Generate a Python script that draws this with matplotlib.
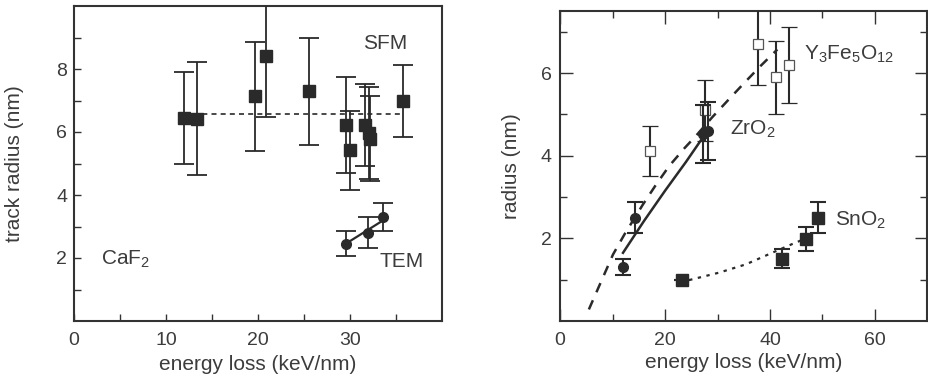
import matplotlib
matplotlib.use("Agg")
import matplotlib.pyplot as plt
from matplotlib.ticker import FixedLocator

plt.rcParams['font.family'] = ['Liberation Sans', 'DejaVu Sans']
plt.rcParams['mathtext.fontset'] = 'custom'
plt.rcParams['mathtext.rm'] = 'Liberation Sans'
plt.rcParams['mathtext.it'] = 'Liberation Sans:italic'
plt.rcParams['mathtext.default'] = 'regular'

# ---------------- data: left panel (CaF2) ----------------
sfm_x = [11.9, 13.4, 19.7, 20.8, 25.5, 29.5, 30.0, 31.6, 32.0, 32.1, 35.7]
sfm_y = [6.45, 6.42, 7.13, 8.40, 7.30, 6.22, 5.42, 6.22, 5.97, 5.78, 6.98]
sfm_err = [1.45, 1.80, 1.74, 1.93, 1.70, 1.53, 1.25, 1.30, 1.45, 1.35, 1.15]
sfm_mean_x = [12.0, 35.8]
sfm_mean_y = [6.57, 6.57]

tem_x = [29.5, 31.9, 33.6]
tem_y = [2.46, 2.80, 3.30]
tem_err = [0.41, 0.49, 0.44]
tem_fit_x = [29.5, 33.6]
tem_fit_y = [2.45, 3.20]

left_xticks = [0, 10, 20, 30]
left_yticks = [2, 4, 6, 8]

# ---------------- data: right panel ----------------
zr_x = [12.0, 14.2, 27.2, 28.1]
zr_y = [1.31, 2.50, 4.52, 4.60]
zr_err = [0.19, 0.37, 0.70, 0.70]
zr_fit_x = [12.0, 16.0, 20.0, 24.0, 27.8]
zr_fit_y = [1.65, 2.42, 3.15, 3.85, 4.55]

yig_x = [17.2, 27.7, 37.8, 41.2, 43.7]
yig_y = [4.11, 5.10, 6.70, 5.90, 6.20]
yig_err = [0.61, 0.74, 1.00, 0.88, 0.92]
yig_fit_x = [5.5, 10.1, 12.3, 15.8, 18.3, 20.8, 23.7, 25.9, 29.0, 32.8, 35.4, 38.2, 41.4]
yig_fit_y = [0.28, 1.61, 2.10, 2.82, 3.30, 3.75, 4.18, 4.48, 4.93, 5.45, 5.80, 6.17, 6.57]

sn_x = [23.2, 42.2, 46.9, 49.1]
sn_y = [0.99, 1.51, 1.99, 2.50]
sn_err = [0.0, 0.22, 0.29, 0.37]
sn_fit_x = [24.6, 30.3, 35.4, 40.4, 44.2, 46.1]
sn_fit_y = [0.99, 1.17, 1.37, 1.65, 1.86, 1.96]

right_xticks = [0, 20, 40, 60]
right_yticks = [2, 4, 6]

# ---------------- styling ----------------
ink = '#2a2a2a'
txt = '#3c3c3c'
spine_c = '#333333'

fig = plt.figure(figsize=(9.29, 3.78), dpi=100)
W, H = 929.0, 378.0

axL = fig.add_axes([74 / W, 1 - 321 / H, (442.3 - 74) / W, (321 - 6) / H])
axR = fig.add_axes([560 / W, 1 - 321 / H, (927.5 - 560) / W, (321 - 11) / H])

for ax in (axL, axR):
    for s in ax.spines.values():
        s.set_linewidth(1.5)
        s.set_color(spine_c)

# ---- left ----
axL.plot(sfm_mean_x, sfm_mean_y, color=ink, lw=1.2, dashes=(3, 2.5), zorder=1)
axL.errorbar(sfm_x, sfm_y, yerr=sfm_err, fmt='s', ms=8, color=ink, mfc=ink, mec=ink,
             ecolor=ink, elinewidth=1.3, capsize=7, capthick=1.3, zorder=3)
axL.plot(tem_fit_x, tem_fit_y, color=ink, lw=1.6, zorder=2)
axL.errorbar(tem_x, tem_y, yerr=tem_err, fmt='o', ms=7, color=ink, mfc=ink, mec=ink,
             ecolor=ink, elinewidth=1.3, capsize=7, capthick=1.3, zorder=3)

axL.set_xlim(0, 40)
axL.set_ylim(0, 10)
axL.xaxis.set_major_locator(FixedLocator(left_xticks))
axL.xaxis.set_minor_locator(FixedLocator([5, 15, 25, 35]))
axL.yaxis.set_major_locator(FixedLocator(left_yticks))
axL.yaxis.set_minor_locator(FixedLocator([1, 3, 5, 7, 9]))
axL.tick_params(which='both', direction='in', length=5, width=1.0, color=spine_c,
                top=False, right=False)
axL.tick_params(axis='x', which='major', pad=8, labelsize=14, labelcolor=txt)
axL.tick_params(axis='y', which='major', pad=5, labelsize=14, labelcolor=txt)

axL.text(33.8, 8.63, 'SFM', ha='center', va='baseline', fontsize=15, color=txt)
axL.text(35.6, 1.73, 'TEM', ha='center', va='baseline', fontsize=15, color=txt)
axL.text(2.9, 1.79, 'CaF$_2$', ha='left', va='baseline', fontsize=15, color=txt)

axL.set_xlabel('energy loss (keV/nm)', fontsize=15, color=txt, va='center')
axL.set_ylabel('track radius (nm)', fontsize=15, color=txt, va='center', ha='center')
axL.xaxis.set_label_coords(0.5, (321 - 365) / 315.0)
axL.yaxis.set_label_coords((15 - 74) / (442.3 - 74), 0.5)

# ---- right ----
axR.plot(yig_fit_x, yig_fit_y, color=ink, lw=1.8, dashes=(4, 3.5), zorder=1)
axR.plot(zr_fit_x, zr_fit_y, color=ink, lw=1.8, zorder=1)
axR.plot(sn_fit_x, sn_fit_y, color=ink, lw=1.6, dashes=(1.5, 2.5), zorder=1)
axR.errorbar(yig_x, yig_y, yerr=yig_err, fmt='s', ms=6.5, color=ink, mfc='white', mec='#555555',
             mew=0.9, ecolor=ink, elinewidth=1.5, capsize=6, capthick=1.5, zorder=3)
axR.errorbar(zr_x, zr_y, yerr=zr_err, fmt='o', ms=7, color=ink, mfc=ink, mec=ink,
             ecolor=ink, elinewidth=1.5, capsize=6, capthick=1.5, zorder=4)
axR.errorbar(sn_x, sn_y, yerr=sn_err, fmt='s', ms=8, color=ink, mfc=ink, mec=ink,
             ecolor=ink, elinewidth=1.5, capsize=6, capthick=1.5, zorder=4)

axR.set_xlim(0, 70)
axR.set_ylim(0, 7.5)
axR.xaxis.set_major_locator(FixedLocator(right_xticks))
axR.xaxis.set_minor_locator(FixedLocator([10, 30, 50]))
axR.yaxis.set_major_locator(FixedLocator(right_yticks))
axR.yaxis.set_minor_locator(FixedLocator([1, 3, 5, 7]))
axR.tick_params(which='major', direction='in', length=9, width=1.0, color=spine_c,
                top=True, right=True)
axR.tick_params(which='minor', direction='in', length=5, width=1.0, color=spine_c,
                top=True, right=True)
axR.tick_params(axis='x', which='major', pad=8, labelsize=14, labelcolor=txt)
axR.tick_params(axis='y', which='major', pad=6, labelsize=14, labelcolor=txt)

axR.text(46.4, 6.32, 'Y$_3$Fe$_5$O$_{12}$', ha='left', va='baseline', fontsize=15, color=txt)
axR.text(32.3, 4.51, 'ZrO$_2$', ha='left', va='baseline', fontsize=15, color=txt)
axR.text(52.4, 2.30, 'SnO$_2$', ha='left', va='baseline', fontsize=15, color=txt)

axR.set_xlabel('energy loss (keV/nm)', fontsize=15, color=txt, va='center')
axR.set_ylabel('radius (nm)', fontsize=15, color=txt, va='center', ha='center')
axR.xaxis.set_label_coords(0.5, (321 - 363) / 310.0)
axR.yaxis.set_label_coords((511.7 - 560) / (927.5 - 560), 0.5)

fig.savefig('out.png', dpi=100)
